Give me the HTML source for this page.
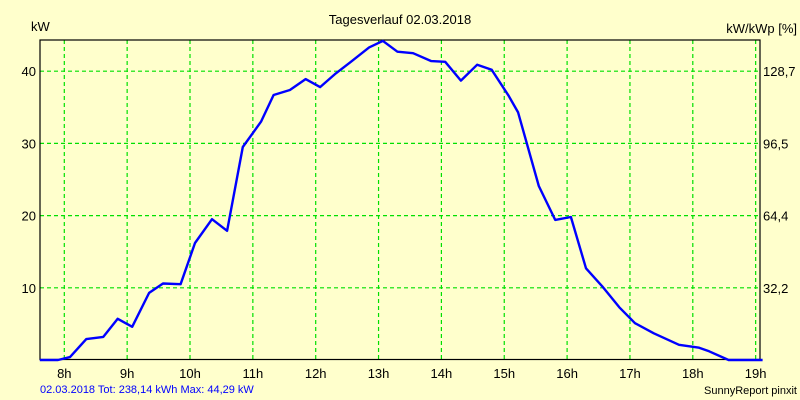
<!DOCTYPE html>
<html><head><meta charset="utf-8"><style>
html,body{margin:0;padding:0;background:#ffffcc;}
svg{display:block;font-family:"Liberation Sans",sans-serif;}
</style></head><body>
<svg width="800" height="400" viewBox="0 0 800 400">
<rect width="800" height="400" fill="#ffffcc"/>
<g id="grid"></g>
<rect x="40" y="40" width="720" height="319.5" fill="none" stroke="#000" stroke-width="1.2"/>
<polyline id="line" fill="none" stroke="#0000ff" stroke-width="2.4" stroke-linejoin="round"/>
<g id="labels" font-size="13" fill="#000"></g>
<text x="400" y="24" font-size="13" text-anchor="middle">Tagesverlauf 02.03.2018</text>
<text x="31" y="31" font-size="13">kW</text>
<text x="797" y="33" font-size="13" text-anchor="end">kW/kWp [%]</text>
<text x="40" y="393" font-size="11" fill="#0000ff">02.03.2018 Tot: 238,14 kWh Max: 44,29 kW</text>
<text x="797" y="394" font-size="11" text-anchor="end">SunnyReport pinxit</text>
</svg>
<script>
const hours=[8,9,10,11,12,13,14,15,16,17,18,19];
const yTicks=[10,20,30,40];
const rightTicks=["32,2","64,4","96,5","128,7"];
const times=[7.61,7.9,8.09,8.35,8.62,8.85,9.08,9.35,9.57,9.85,10.08,10.35,10.59,10.84,11.13,11.33,11.59,11.84,12.07,12.32,12.56,12.85,13.07,13.3,13.55,13.84,14.06,14.31,14.57,14.8,15.07,15.22,15.55,15.81,16.06,16.3,16.56,16.83,17.08,17.38,17.78,18.1,18.26,18.57,19.11];
const power=[0,0,0.4,2.9,3.2,5.7,4.6,9.3,10.6,10.5,16.2,19.5,17.9,29.5,33,36.7,37.4,38.9,37.8,39.7,41.3,43.3,44.2,42.7,42.5,41.4,41.3,38.7,40.9,40.2,36.6,34.3,24.1,19.4,19.8,12.7,10.2,7.3,5.1,3.7,2.1,1.7,1.2,0,0];
const X=t=>64.3+(t-8)*62.85;
const Y=v=>360-7.22*v;
const NS="http://www.w3.org/2000/svg";
const grid=document.getElementById('grid'),labels=document.getElementById('labels');
function mk(tag,attrs,parent){const e=document.createElementNS(NS,tag);for(const k in attrs)e.setAttribute(k,attrs[k]);parent.appendChild(e);return e;}
hours.forEach(h=>{
 const l=mk('line',{x1:X(h),x2:X(h),y1:40,y2:359.5,stroke:'#00e000','stroke-dasharray':'4 3','stroke-width':1.2},grid);
 
 
 const t=mk('text',{x:X(h),y:378,'text-anchor':'middle'},labels);
 t.textContent=h+'h';
 
 
});
yTicks.forEach((v,i)=>{
 const l=mk('line',{x1:40,x2:760,y1:Y(v),y2:Y(v),stroke:'#00e000','stroke-dasharray':'4 3','stroke-width':1.2},grid);
 
 
 const t=mk('text',{x:36,y:Y(v)+5,'text-anchor':'end'},labels);
 t.textContent=v;
 
 
 const r=mk('text',{x:763,y:Y(v)+5},labels);
 r.textContent=rightTicks[i];
 
 
});
document.getElementById('line').setAttribute('points',times.map((t,i)=>X(t).toFixed(1)+','+Y(power[i]).toFixed(1)).join(' '));
</script>
</body></html>
